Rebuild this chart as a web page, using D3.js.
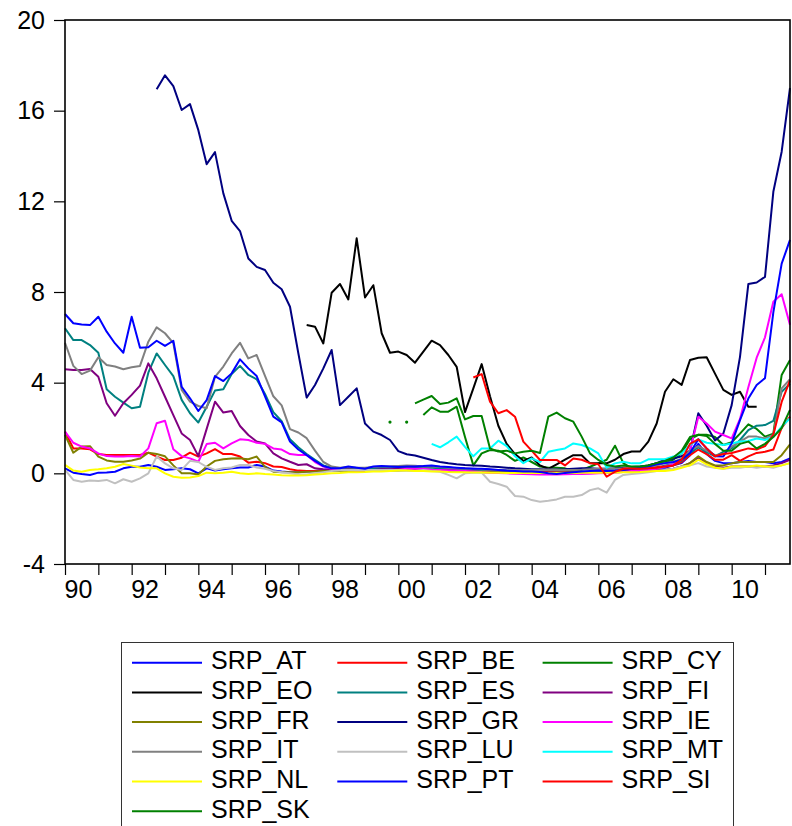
<!DOCTYPE html>
<html>
<head>
<meta charset="utf-8">
<script src="https://cdn.jsdelivr.net/npm/d3@7"></script>
<style>
  body { margin: 0; background: #fff; }
  svg { display: block; font-family: "Liberation Sans", Arial, sans-serif; }
</style>
</head>
<body>
<script>
// quarterly observations, 1990Q1 .. 2011Q4 (88 values each, null = missing)
const startYear = 1990;

const seriesNames = [
  "SRP_AT", "SRP_BE", "SRP_CY", "SRP_EO", "SRP_ES", "SRP_FI", "SRP_FR", "SRP_GR",
  "SRP_IE", "SRP_IT", "SRP_LU", "SRP_MT", "SRP_NL", "SRP_PT", "SRP_SI", "SRP_SK"
];
const seriesColors = [
  "#0000ff", "#ff0000", "#008000", "#000000", "#008080", "#800080", "#808000", "#000080",
  "#ff00ff", "#808080", "#c0c0c0", "#00ffff", "#ffff00", "#0000ff", "#ff0000", "#008000"
];

const srpAT = [
  0.22, 0.03, -0.03, -0.07, 0.03, 0.04, 0.07, 0.22,
  0.29, 0.29, 0.37, 0.29, 0.15, 0.18, 0.22, 0.18,
  0.0, 0.22, 0.12, 0.18, 0.22, 0.26, 0.26, 0.37,
  0.3, 0.12, 0.08, 0.05, 0.05, 0.08, 0.1, 0.15,
  0.2, 0.22, 0.25, 0.22, 0.2, 0.25, 0.25, 0.28,
  0.3, 0.32, 0.3, 0.3, 0.28, 0.27, 0.25, 0.22,
  0.2, 0.2, 0.18, 0.15, 0.12, 0.1, 0.08, 0.08,
  0.06, 0.05, 0.05, 0.04, 0.03, 0.05, 0.05, 0.06,
  0.06, 0.05, 0.07, 0.1, 0.12, 0.15, 0.2, 0.25,
  0.25, 0.35, 0.45, 0.8, 1.3, 0.85, 0.55, 0.45,
  0.44, 0.5, 0.55, 0.5, 0.5, 0.44, 0.5, 0.66
];
const srpBE = [
  1.84, 1.1, 1.1, 1.06, 0.85, 0.81, 0.81, 0.81,
  0.81, 0.81, 0.91, 0.74, 0.59, 0.59, 0.69, 0.91,
  0.74, 0.88, 1.07, 0.85, 0.85, 0.74, 0.47, 0.51,
  0.45, 0.3, 0.28, 0.18, 0.12, 0.1, 0.1, 0.12,
  0.15, 0.18, 0.2, 0.2, 0.22, 0.25, 0.25, 0.28,
  0.28, 0.3, 0.3, 0.28, 0.28, 0.27, 0.25, 0.22,
  0.2, 0.18, 0.17, 0.15, 0.12, 0.1, 0.1, 0.08,
  0.07, 0.06, 0.05, 0.05, 0.05, 0.06, 0.06, 0.07,
  0.08, 0.08, 0.1, 0.12, 0.15, 0.2, 0.25, 0.3,
  0.3, 0.35, 0.5, 0.8, 1.05, 0.85, 0.6, 0.6,
  0.8, 0.55, 0.75, 0.9, 0.95, 1.05, 2.0, 2.5
];
const srpCY = [
  null, null, null, null, null, null, null, null,
  null, null, null, null, null, null, null, null,
  null, null, null, null, null, null, null, null,
  null, null, null, null, null, null, null, null,
  null, null, null, null, null, null, null, 2.26,
  null, 2.26, null, 2.57, 2.91, 2.72, 2.72, 2.94,
  1.6, 0.35, 0.88, 1.03, 1.0, 0.81, 0.55, 0.7,
  0.5, 0.3, 0.25, 0.25, 0.22, 0.1, 0.15, 0.29,
  0.44, 0.6, 1.22, 0.45, 0.22, 0.26, 0.35, 0.45,
  0.5, 0.6, 0.9, 1.5, 1.7, 1.7, 1.6, 1.25,
  1.37, 1.75, 2.16, 1.96, 1.62, 1.75, 4.34, 5.0
];
const srpEO = [
  null, null, null, null, null, null, null, null,
  null, null, null, null, null, null, null, null,
  null, null, null, null, null, null, null, null,
  null, null, null, null, null, 6.54, 6.47, 5.73,
  7.97, 8.35, 7.67, 10.37, 7.76, 8.3, 6.18, 5.32,
  5.37, 5.22, 4.88, 5.37, 5.85, 5.66, 5.22, 4.7,
  2.7, 3.75, 4.82, 3.4, 2.1, 1.3, 0.85, 0.55,
  0.7, 0.35, 0.2, 0.4, 0.6, 0.8, 0.8, 0.44,
  0.44, 0.44, 0.6, 0.85, 0.96, 0.96, 1.4, 2.2,
  3.6, 4.15, 3.9, 5.0, 5.1, 5.12, 4.4, 3.68,
  3.46, 3.6, 2.94, 2.94, null, null, null, null
];
const srpES = [
  6.4, 5.88, 5.88, 5.66, 5.32, 3.71, 3.38, 3.12,
  2.87, 2.94, 4.44, 5.29, 4.78, 4.29, 3.24, 2.65,
  2.24, 2.94, 3.65, 3.71, 4.38, 4.74, 4.34, 4.15,
  3.5, 2.7, 2.3, 1.5, 1.15, 0.85, 0.6, 0.35,
  0.25, 0.2, 0.22, 0.2, 0.2, 0.22, 0.25, 0.25,
  0.28, 0.3, 0.28, 0.27, 0.25, 0.22, 0.2, 0.18,
  0.15, 0.12, 0.1, 0.08, 0.06, 0.05, 0.04, 0.03,
  0.02, 0.02, 0.02, 0.03, 0.03, 0.04, 0.04, 0.05,
  0.05, 0.05, 0.06, 0.08, 0.1, 0.12, 0.15, 0.2,
  0.35, 0.4, 0.55, 0.9, 1.15, 0.95, 0.75, 0.95,
  1.1, 1.47, 1.91, 2.1, 2.13, 2.31, 3.6, 3.95
];
const srpFI = [
  4.59, 4.56, 4.56, 4.6, 4.26, 3.09, 2.54, 3.09,
  3.46, 3.87, 4.85, 4.19, 3.38, 2.57, 1.76, 1.47,
  0.76, 1.96, 3.16, 2.68, 2.75, 2.09, 1.69, 1.4,
  1.32, 0.88, 0.66, 0.51, 0.37, 0.4, 0.22, 0.18,
  0.15, 0.15, 0.18, 0.15, 0.15, 0.15, 0.18, 0.18,
  0.2, 0.2, 0.2, 0.18, 0.16, 0.15, 0.14, 0.12,
  0.1, 0.08, 0.06, 0.05, 0.04, 0.03, 0.02, 0.02,
  0.02, 0.02, 0.03, 0.03, 0.03, 0.04, 0.04, 0.05,
  0.05, 0.06, 0.07, 0.08, 0.1, 0.1, 0.12, 0.15,
  0.15, 0.2, 0.3, 0.45, 0.7, 0.45, 0.3, 0.25,
  0.3, 0.3, 0.3, 0.3, 0.3, 0.35, 0.45, 0.6
];
const srpFR = [
  1.7, 0.91, 1.18, 1.2, 0.74, 0.57, 0.51, 0.51,
  0.57, 0.65, 0.91, 0.85, 0.75, 0.35, 0.0, 0.0,
  -0.05, 0.3, 0.55, 0.62, 0.65, 0.66, 0.62, 0.74,
  0.29, 0.07, 0.05, 0.05, 0.05, 0.07, 0.08, 0.1,
  0.1, 0.12, 0.1, 0.1, 0.1, 0.1, 0.12, 0.12,
  0.12, 0.14, 0.14, 0.13, 0.12, 0.12, 0.1, 0.1,
  0.08, 0.07, 0.06, 0.05, 0.04, 0.03, 0.03, 0.02,
  0.02, 0.02, 0.03, 0.03, 0.03, 0.04, 0.04, 0.04,
  0.05, 0.05, 0.05, 0.06, 0.07, 0.08, 0.1, 0.12,
  0.15, 0.2, 0.3, 0.45, 0.75, 0.5, 0.35, 0.35,
  0.44, 0.5, 0.5, 0.5, 0.5, 0.5, 0.8, 1.28
];
const srpGR = [
  null, null, null, null, null, null, null, null,
  null, null, null, 16.94, 17.56, 17.08, 16.03, 16.29,
  15.14, 13.64, 14.17, 12.35, 11.14, 10.69, 9.48, 9.11,
  8.97, 8.41, 8.12, 7.35, 5.3, 3.34, 3.9, 4.63,
  5.44, 3.01, 3.38, 3.75, 2.2, 1.84, 1.69, 1.47,
  0.98, 0.84, 0.79, 0.69, 0.59, 0.5, 0.44, 0.4,
  0.37, 0.35, 0.33, 0.3, 0.28, 0.25, 0.22, 0.2,
  0.18, 0.18, 0.17, 0.17, 0.18, 0.2, 0.22, 0.22,
  0.2, 0.2, 0.22, 0.25, 0.28, 0.3, 0.35, 0.45,
  0.6, 0.65, 0.75, 1.0, 2.65, 2.1, 1.45, 1.76,
  3.01, 5.14, 8.35, 8.42, 8.67, 12.42, 14.19, 17.0
];
const srpIE = [
  1.84, 1.35, 1.18, 1.1, 0.88, 0.76, 0.74, 0.74,
  0.76, 0.74, 1.1, 2.21, 2.32, 1.06, 0.76, 0.66,
  0.51, 1.29, 1.35, 1.1, 1.32, 1.5, 1.47, 1.35,
  1.3, 1.1, 1.05, 0.85, 0.81, 0.81, 0.5, 0.3,
  0.2, 0.15, 0.15, 0.12, 0.12, 0.12, 0.15, 0.15,
  0.15, 0.2, 0.2, 0.2, 0.15, 0.15, 0.12, 0.12,
  0.1, 0.08, 0.05, 0.03, 0.02, 0.0, -0.02, -0.03,
  -0.04, -0.05, -0.05, -0.05, -0.04, -0.03, -0.03, -0.02,
  0.0, 0.02, 0.04, 0.06, 0.1, 0.12, 0.15, 0.2,
  0.3, 0.4, 0.6, 1.0, 2.5, 2.2, 1.84, 1.69,
  1.54, 2.4, 3.8, 5.1, 6.0, 7.57, 7.9, 6.55
];
const srpIT = [
  5.76, 4.74, 4.38, 4.53, 5.12, 4.78, 4.71, 4.59,
  4.68, 4.74, 5.81, 6.44, 6.18, 5.74, 3.68, 3.16,
  2.97, 2.87, 4.26, 4.71, 5.29, 5.76, 5.07, 5.22,
  4.3, 3.4, 3.0, 1.95, 1.8, 1.55, 1.0, 0.5,
  0.3, 0.25, 0.28, 0.25, 0.25, 0.28, 0.3, 0.3,
  0.32, 0.35, 0.33, 0.3, 0.3, 0.28, 0.25, 0.22,
  0.2, 0.18, 0.17, 0.16, 0.15, 0.14, 0.14, 0.15,
  0.15, 0.16, 0.17, 0.16, 0.15, 0.15, 0.16, 0.18,
  0.2, 0.2, 0.2, 0.22, 0.25, 0.25, 0.28, 0.35,
  0.45, 0.5, 0.65, 1.0, 1.2, 1.0, 0.8, 0.85,
  1.18, 1.4, 1.62, 1.62, 1.54, 1.69, 3.75, 4.15
];
const srpLU = [
  0.15, -0.29, -0.37, -0.32, -0.34, -0.29, -0.44, -0.26,
  -0.37, -0.22, 0.0, 0.74, 0.44, 0.22, 0.15, 0.55,
  0.5, 0.29, 0.15, 0.22, 0.26, 0.37, 0.37, 0.26,
  0.2, 0.1, 0.05, 0.0, -0.05, -0.05, 0.0, 0.05,
  0.1, 0.15, 0.15, 0.15, 0.15, 0.15, 0.15, 0.15,
  0.15, 0.12, 0.1, 0.15, 0.1, 0.07, -0.07, -0.22,
  0.0, 0.03, 0.03, -0.37, -0.47, -0.59, -1.0, -1.03,
  -1.18, -1.25, -1.21, -1.15, -1.03, -1.03, -0.96, -0.74,
  -0.66, -0.85, -0.29, -0.07, -0.03, 0.0, 0.05, 0.1,
  0.15, 0.2, 0.3, 0.35, 0.45, 0.3, 0.25, 0.2,
  0.25, 0.25, 0.3, 0.25, 0.3, 0.25, 0.35, 0.45
];
const srpMT = [
  null, null, null, null, null, null, null, null,
  null, null, null, null, null, null, null, null,
  null, null, null, null, null, null, null, null,
  null, null, null, null, null, null, null, null,
  null, null, null, null, null, null, null, null,
  null, null, null, null, 1.3, 1.15, 1.37, 1.62,
  1.17, 0.75, 1.1, 1.1, 1.44, 1.2, 0.75, 0.45,
  0.66, 0.5, 0.95, 1.03, 1.1, 1.32, 1.25, 1.1,
  0.88, 0.25, 0.44, 0.51, 0.44, 0.44, 0.62, 0.62,
  0.62, 0.74, 0.88, 1.25, 1.5, 1.35, 1.3, 1.25,
  1.32, 1.4, 1.43, 1.54, 1.47, 1.62, 2.06, 2.43
];
const srpNL = [
  0.37, 0.12, 0.07, 0.15, 0.18, 0.22, 0.29, 0.41,
  0.34, 0.26, 0.22, 0.22, 0.0, -0.15, -0.19, -0.18,
  -0.12, 0.03, 0.0, 0.03, 0.07, 0.0, -0.03, 0.0,
  -0.03, -0.05, -0.08, -0.1, -0.1, -0.08, -0.05, -0.03,
  0.0, 0.02, 0.05, 0.05, 0.06, 0.08, 0.08, 0.1,
  0.12, 0.12, 0.1, 0.1, 0.08, 0.08, 0.06, 0.05,
  0.05, 0.04, 0.04, 0.03, 0.03, 0.02, 0.02, 0.02,
  0.02, 0.02, 0.02, 0.02, 0.02, 0.02, 0.03, 0.03,
  0.03, 0.03, 0.04, 0.05, 0.05, 0.06, 0.08, 0.1,
  0.1, 0.15, 0.25, 0.35, 0.6, 0.4, 0.25, 0.2,
  0.3, 0.3, 0.3, 0.35, 0.3, 0.3, 0.35, 0.45
];
const srpPT = [
  7.03, 6.62, 6.57, 6.54, 6.91, 6.25, 5.73, 5.32,
  6.91, 5.54, 5.56, 5.85, 5.62, 5.85, 3.82, 3.31,
  2.75, 3.23, 4.29, 4.07, 4.41, 5.03, 4.63, 4.29,
  3.4, 2.5, 2.25, 1.4, 1.05, 0.8, 0.55, 0.32,
  0.22, 0.22, 0.3, 0.25, 0.2, 0.3, 0.32, 0.3,
  0.28, 0.3, 0.3, 0.32, 0.35, 0.3, 0.28, 0.25,
  0.22, 0.2, 0.2, 0.18, 0.15, 0.12, 0.1, 0.08,
  0.08, 0.06, 0.0, -0.03, 0.02, 0.05, 0.08, 0.1,
  0.12, 0.1, 0.12, 0.15, 0.2, 0.25, 0.3, 0.4,
  0.45, 0.5, 0.6, 0.9, 1.5, 1.1, 0.75, 0.74,
  1.32, 2.35, 3.3, 3.9, 4.2, 7.1, 9.25, 10.3
];
const srpSI = [
  null, null, null, null, null, null, null, null,
  null, null, null, null, null, null, null, null,
  null, null, null, null, null, null, null, null,
  null, null, null, null, null, null, null, null,
  null, null, null, null, null, null, null, null,
  null, null, null, null, null, null, null, null,
  null, 4.23, 4.38, 3.16, 2.65, 2.79, 2.5, 1.4,
  1.0, 0.59, 0.59, 0.59, 0.35, 0.65, 0.6, 0.45,
  0.4, -0.15, 0.07, 0.2, 0.22, 0.2, 0.22, 0.25,
  0.3, 0.35, 0.6, 1.3, 1.5, 1.1, 0.75, 0.85,
  0.9, 1.0, 1.1, 1.05, 1.2, 1.7, 3.15, 4.1
];
const srpSK = [
  null, null, null, null, null, null, null, null,
  null, null, null, null, null, null, null, null,
  null, null, null, null, null, null, null, null,
  null, null, null, null, null, null, null, null,
  null, null, null, null, null, null, null, null,
  null, null, 3.09, 3.25, 3.41, 3.06, 3.12, 3.31,
  2.38, 2.53, 2.53, 1.1, 0.96, 1.0, 0.88, 0.95,
  1.0, 0.9, 2.5, 2.68, 2.43, 2.28, 1.62, 0.88,
  0.59, 0.37, 0.3, 0.35, 0.3, 0.3, 0.35, 0.45,
  0.55, 0.7, 1.0, 1.6, 1.7, 1.65, 1.3, 1.0,
  1.0, 1.3, 1.4, 1.1, 1.3, 1.6, 2.0, 2.8
];

const seriesValues = [
  srpAT, srpBE, srpCY, srpEO, srpES, srpFI, srpFR, srpGR,
  srpIE, srpIT, srpLU, srpMT, srpNL, srpPT, srpSI, srpSK
];

const yTicks = [-4, 0, 4, 8, 12, 16, 20];
const xTickYears = [1990, 1991, 1992, 1993, 1994, 1995, 1996, 1997, 1998, 1999, 2000,
  2001, 2002, 2003, 2004, 2005, 2006, 2007, 2008, 2009, 2010, 2011];

const width = 792;
const height = 826;
const plotLeft = 65, plotRight = 790, plotTop = 20, plotBottom = 564;

const svg = d3.select("body")
  .append("svg")
  .attr("width", width)
  .attr("height", height);

const x = d3.scaleLinear().domain([startYear, startYear + 87 / 4]).range([plotLeft, plotRight]);
const y = d3.scaleLinear().domain([-4, 20]).range([plotBottom, plotTop]);

const t = (i) => startYear + i / 4;

// axes
const yAxis = svg.append("g")
  .attr("transform", `translate(${plotLeft},0)`)
  .call(d3.axisLeft(y)
    .tickValues(yTicks)
    .tickSize(11)
    .tickSizeOuter(0)
    .tickPadding(9)
    .tickFormat(d => String(d)));
yAxis.select(".domain").remove();
yAxis.selectAll("line").attr("stroke", "#000").attr("stroke-width", 1.2);
yAxis.selectAll("text")
  .attr("fill", "#000")
  .style("font-size", "25px")
  .style("font-family", "'Liberation Sans', Arial, sans-serif");

const xAxis = svg.append("g")
  .attr("transform", `translate(0,${plotBottom})`)
  .call(d3.axisBottom(x)
    .tickValues(xTickYears)
    .tickSize(11)
    .tickSizeOuter(0)
    .tickFormat(d => d % 2 === 0 ? String(d).slice(2) : ""));
xAxis.select(".domain").remove();
xAxis.selectAll("line").attr("stroke", "#000").attr("stroke-width", 1.2);
xAxis.selectAll("text")
  .attr("fill", "#000")
  .attr("text-anchor", "start")
  .attr("x", -1)
  .attr("y", 34)
  .attr("dy", null)
  .style("font-size", "25px")
  .style("font-family", "'Liberation Sans', Arial, sans-serif");

// series
const line = d3.line()
  .defined(d => d != null)
  .x((d, i) => x(t(i)))
  .y(d => y(d));

const plot = svg.append("g");
seriesValues.forEach((vals, k) => {
  plot.append("path")
    .datum(vals)
    .attr("fill", "none")
    .attr("stroke", seriesColors[k])
    .attr("stroke-width", 2)
    .attr("stroke-linejoin", "round")
    .attr("d", line);

  // single observations between gaps show up as dots
  const lone = vals
    .map((v, i) => ({ v, i }))
    .filter(p => p.v != null && vals[p.i - 1] == null && vals[p.i + 1] == null);
  plot.selectAll(null)
    .data(lone)
    .enter()
    .append("circle")
    .attr("cx", p => x(t(p.i)))
    .attr("cy", p => y(p.v))
    .attr("r", 1.6)
    .attr("fill", seriesColors[k]);
});

// frame
svg.append("rect")
  .attr("x", plotLeft)
  .attr("y", plotTop)
  .attr("width", plotRight - plotLeft)
  .attr("height", plotBottom - plotTop)
  .attr("fill", "none")
  .attr("stroke", "#000")
  .attr("stroke-width", 1.6);

// legend
const legend = svg.append("g");
legend.append("rect")
  .attr("x", 121.5)
  .attr("y", 642.5)
  .attr("width", 612)
  .attr("height", 200)
  .attr("fill", "none")
  .attr("stroke", "#333")
  .attr("stroke-width", 1);

const item = legend.selectAll("g.item")
  .data(seriesNames)
  .enter()
  .append("g")
  .attr("class", "item")
  .attr("transform", (d, i) => `translate(${132 + (i % 3) * 205.3},${662.7 + Math.floor(i / 3) * 29.7})`);

item.append("line")
  .attr("x1", 0)
  .attr("x2", 70)
  .attr("y1", 0)
  .attr("y2", 0)
  .attr("stroke", (d, i) => seriesColors[i])
  .attr("stroke-width", 2);

item.append("text")
  .attr("x", 79)
  .attr("y", 6.6)
  .attr("fill", "#000")
  .style("font-size", "25px")
  .text(d => d);
</script>
</body>
</html>
